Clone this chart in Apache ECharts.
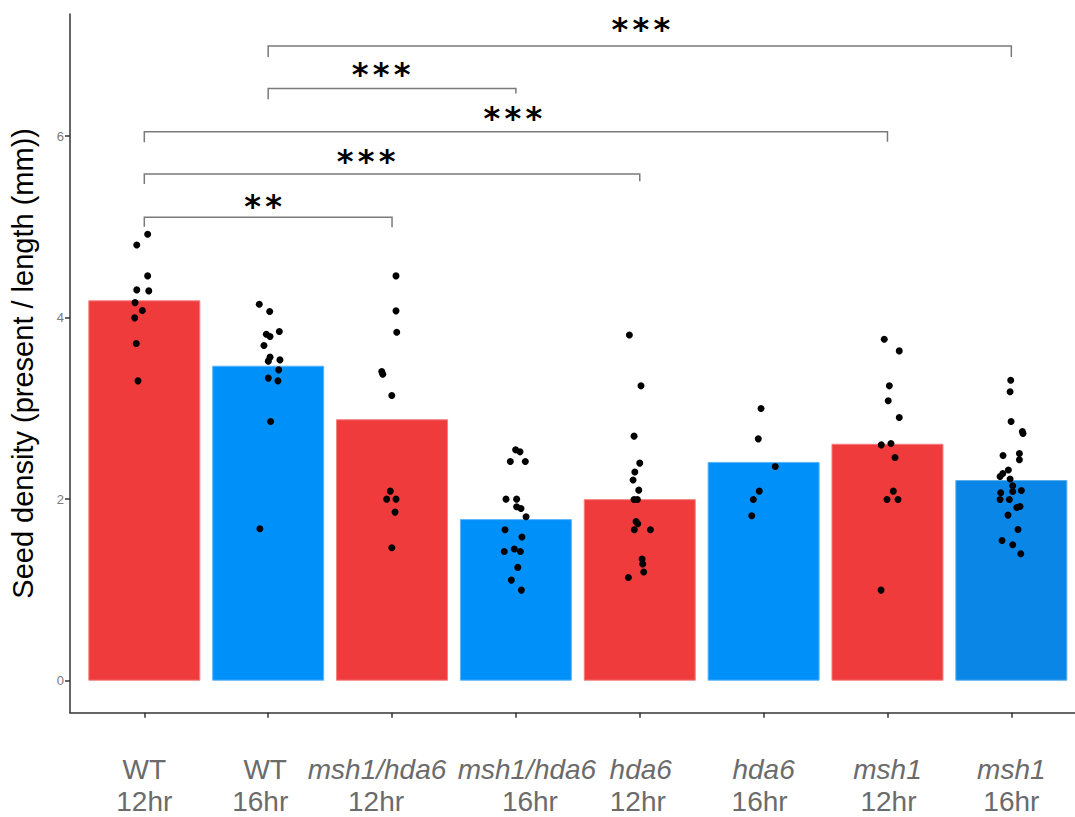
<!DOCTYPE html>
<html><head><meta charset="utf-8">
<script src="https://cdn.jsdelivr.net/npm/echarts@6/dist/echarts.min.js"></script>
<style>html,body{margin:0;padding:0;background:#fff}#c{width:1075px;height:817px}</style>
</head><body><div id="c"></div>
<script>
// ---------- data ----------
const genotypes   = ['WT','WT','msh1/hda6','msh1/hda6','hda6','hda6','msh1','msh1'];
const photoperiods = ['12hr','16hr','12hr','16hr','12hr','16hr','12hr','16hr'];
const italicName  = [false,false,true,true,true,true,true,true];
const meanDensity = [4.19,3.47,2.88,1.78,2.00,2.41,2.61,2.21];
const yTicks = [0,2,4,6];

const wt12Y   = [4.918,4.80,4.459,4.305,4.294,4.165,4.077,3.997,3.714,3.303];
const wt12Jit = [0.027,-0.061,0.027,-0.061,0.036,-0.075,-0.016,-0.078,-0.065,-0.051];
const wt16Y   = [4.147,4.066,3.846,3.817,3.791,3.692,3.564,3.534,3.52,3.424,3.333,3.303,2.855,1.673];
const wt16Jit = [-0.072,0.012,0.090,-0.015,0.015,-0.034,0.015,0.095,0.001,0.085,0.001,0.079,0.020,-0.067];
const mh12Y   = [4.459,4.074,3.839,3.405,3.376,3.141,2.088,2.0,2.0,1.857,1.464];
const mh12Jit = [0.032,0.032,0.038,-0.083,-0.075,-0.002,-0.014,-0.043,0.032,0.024,-0.002];
const mh16Y   = [2.543,2.521,2.415,2.415,2.0,2.0,1.916,1.897,1.806,1.662,1.582,1.424,1.45,1.424,1.248,1.108,0.998];
const mh16Jit = [-0.002,0.033,-0.045,0.076,-0.080,0.006,0.006,0.041,0.082,-0.088,0.049,-0.094,-0.013,0.036,0.015,-0.037,0.044];
const h12Y    = [3.809,3.248,2.694,2.397,2.298,2.21,2.099,1.996,1.996,1.754,1.728,1.662,1.662,1.34,1.285,1.197,1.137];
const h12Jit  = [-0.084,0.010,-0.046,0.0,-0.040,-0.054,-0.008,-0.046,-0.019,-0.030,-0.016,-0.044,0.086,0.019,0.024,0.032,-0.092];
const h16Y    = [2.998,2.664,2.36,2.088,1.996,1.817];
const h16Jit  = [-0.021,-0.043,0.094,-0.035,-0.083,-0.096];
const m12Y    = [3.762,3.633,3.248,3.083,2.899,2.598,2.613,2.459,2.088,1.996,1.996,0.998];
const m12Jit  = [-0.026,0.095,0.015,0.006,0.095,-0.050,0.028,0.061,0.047,-0.004,0.085,-0.052];
const m16Y    = [3.31,3.182,2.855,2.745,2.723,2.481,2.503,2.433,2.32,2.283,2.249,2.221,2.147,2.084,2.095,2.07,1.996,1.996,1.908,1.919,1.824,1.666,1.545,1.497,1.398];
const m16Jit  = [-0.005,-0.010,-0.002,0.089,0.094,-0.067,0.065,0.065,-0.024,-0.069,-0.091,-0.010,0.011,0.011,0.081,-0.086,-0.091,-0.016,0.044,0.070,-0.027,0.054,-0.075,0.011,0.076];

// significance brackets
const sigFrom  = [1,1,1,2,2];
const sigTo    = [3,5,7,4,8];
const sigY     = [5.105,5.582,6.048,6.522,6.991];
const sigTipL  = [0.104,0.11,0.117,0.117,0.12];
const sigTipR  = [0.11,0.08,0.11,0.055,0.12];
const sigLabel = ['**','***','***','***','***'];

// ---------- styles ----------
const RED = '#EF3B3B', BLUE = '#0090FA', BLUE2 = '#0A86E6';
const barColors  = [RED,BLUE,RED,BLUE,RED,BLUE,RED,BLUE2];
const barBorders = ['#F57F7F','#5DB6FB','#F57F7F','#5DB6FB','#F57F7F','#5DB6FB','#F57F7F','#5AAEEE'];
const LABEL_NUDGE_TOP = [0,-3,-15,11,1,0,0,0];
const LABEL_NUDGE_BOT = [0,-8,-16,14,-2,-4,1,0];
const STAR_NUDGE = [-5,-26,-3,-11,1];
const STAR_LIFT  = [16,18,19,20,22];
const FONT = 'Liberation Sans, Arial, sans-serif';

const groupsY   = [wt12Y,wt16Y,mh12Y,mh16Y,h12Y,h16Y,m12Y,m16Y];
const groupsJit = [wt12Jit,wt16Jit,mh12Jit,mh16Jit,h12Jit,h16Jit,m12Jit,m16Jit];
const pointData = [];
groupsY.forEach((ys,g)=>ys.forEach((y,k)=>pointData.push([g+1+groupsJit[g][k], y])));

const catValues = genotypes.map((_,i)=>i+1);
const rich = {};
genotypes.forEach((g,i)=>{
  const pad = s => s>=0 ? [0,0,0,2*s] : [0,-2*s,0,0];
  rich['g'+i] = {fontSize:28, lineHeight:32, color:'#6b6b6b', fontFamily:FONT,
                 fontStyle: italicName[i]?'italic':'normal', padding: pad(LABEL_NUDGE_TOP[i])};
  rich['p'+i] = {fontSize:28, lineHeight:32, color:'#6b6b6b', fontFamily:FONT,
                 padding: pad(LABEL_NUDGE_BOT[i])};
});

const chart = echarts.init(document.getElementById('c'), null, {renderer:'svg'});
chart.setOption({
  animation:false,
  backgroundColor:'#fff',
  grid:{left:70,right:0,top:14,bottom:104.3,outerBoundsMode:'none'},
  xAxis:{
    type:'value', min:0.4, max:8.514,
    splitLine:{show:false},
    axisLine:{onZero:false, lineStyle:{color:'#333',width:1.5}},
    axisTick:{customValues:catValues, length:5, lineStyle:{color:'#333',width:1.5}},
    axisLabel:{customValues:catValues, margin:41,
      formatter:v=>{const i=Math.round(v)-1; return '{g'+i+'|'+genotypes[i]+'}\n{p'+i+'|'+photoperiods[i]+'}';},
      rich:rich}
  },
  yAxis:{
    type:'value', min:-0.3525, max:7.344,
    name:'Seed density (present / length (mm))', nameLocation:'middle', nameGap:33,
    nameTextStyle:{fontSize:29, color:'#000', fontFamily:FONT},
    splitLine:{show:false},
    axisLine:{onZero:false, lineStyle:{color:'#333',width:1.5}},
    axisTick:{customValues:yTicks, length:5, lineStyle:{color:'#333',width:1.5}},
    axisLabel:{customValues:yTicks, fontSize:13, color:'#7a7a7a', margin:6, fontFamily:FONT}
  },
  series:[
    {type:'bar', barWidth:112, z:2,
     data: meanDensity.map((v,i)=>({value:[i+1,v], itemStyle:{color:barColors[i], borderColor:barBorders[i], borderWidth:1}}))},
    {type:'scatter', symbolSize:7, z:3, itemStyle:{color:'#000', opacity:1}, data:pointData},
    {type:'custom', z:4, clip:false,
     encode:{x:[0,1], y:2},
     data: sigFrom.map((f,i)=>[f, sigTo[i], sigY[i], sigTipL[i], sigTipR[i], i]),
     renderItem:(params, api)=>{
       const x1=api.value(0), x2=api.value(1), y=api.value(2), tl=api.value(3), tr=api.value(4), i=api.value(5);
       const a=api.coord([x1,y-tl]), b=api.coord([x1,y]), c=api.coord([x2,y]), d=api.coord([x2,y-tr]);
       const children=[{type:'polyline', shape:{points:[a,b,c,d]}, style:{stroke:'#7a7a7a', lineWidth:1.5, fill:null}}];
       const lab=sigLabel[i], n=lab.length, cx=(b[0]+c[0])/2+STAR_NUDGE[i];
       for(let j=0;j<n;j++){
         children.push({type:'text', style:{text:'*', x:cx+(j-(n-1)/2)*21, y:b[1]-(STAR_LIFT[i]-5),
           fill:'#000', font:'bold 32px "DejaVu Sans"', align:'center', verticalAlign:'middle'}});
       }
       return {type:'group', children};
     }}
  ]
});
</script></body></html>
